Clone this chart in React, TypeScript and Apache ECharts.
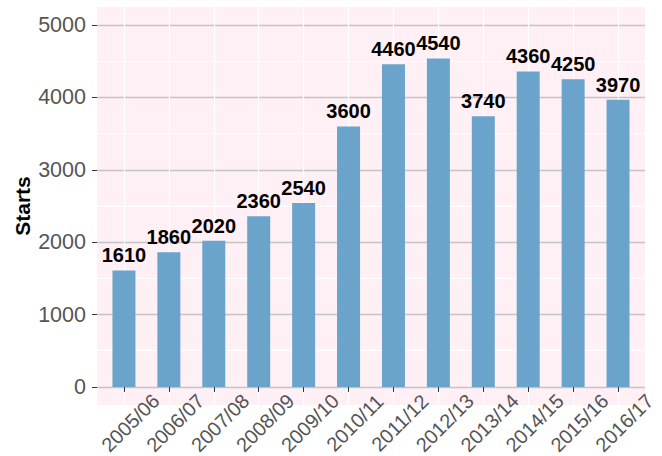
import React, { useEffect, useRef } from "react";
import * as echarts from "echarts";

const categories = ["2005/06", "2006/07", "2007/08", "2008/09", "2009/10", "2010/11", "2011/12", "2012/13", "2013/14", "2014/15", "2015/16", "2016/17"];
const starts = [1610, 1860, 2020, 2360, 2540, 3600, 4460, 4540, 3740, 4360, 4250, 3970];
const yTicks = [0, 1000, 2000, 3000, 4000, 5000];
const yMinor = [500, 1500, 2500, 3500, 4500];
const xPositions = categories.map((_, i) => i + 1);

const FONT = "Liberation Sans, Arial, sans-serif";

export default function App() {
  const ref = useRef<HTMLDivElement>(null);
  useEffect(() => {
    if (!ref.current) return;
    const chart = echarts.init(ref.current, null, { renderer: "svg" });
    chart.setOption({
      animation: false,
      grid: {
        left: 97,
        right: 17,
        top: 7,
        bottom: 51,
        show: true,
        backgroundColor: "#FFF0F5",
        borderWidth: 0,
        outerBoundsMode: "none",
      },
      xAxis: {
        type: "value",
        min: 0.4,
        max: 12.6,
        axisLine: { show: false },
        axisTick: { show: true, length: 5, lineStyle: { color: "#333333" }, customValues: xPositions },
        axisLabel: {
          customValues: xPositions,
          formatter: (v: number) => categories[Math.round(v) - 1] ?? "",
          rotate: 45,
          align: "center",
          verticalAlign: "top",
          margin: 11.5,
          fontSize: 20,
          lineHeight: 18,
          color: "#555555",
          fontFamily: FONT,
        },
        splitLine: { show: true, lineStyle: { color: "#FFFFFF", width: 1.2 } },
      },
      yAxis: {
        type: "value",
        min: -250,
        max: 5250,
        name: "Starts",
        nameLocation: "middle",
        nameGap: 64,
        nameMoveOverlap: false,
        nameTextStyle: { fontSize: 21, fontWeight: "bold", color: "#000000", fontFamily: FONT },
        axisLine: { show: false },
        axisTick: { show: true, length: 5, lineStyle: { color: "#333333" }, customValues: yTicks },
        axisLabel: {
          customValues: yTicks,
          formatter: (v: number) => String(v),
          margin: 11,
          fontSize: 21.5,
          color: "#555555",
          fontFamily: FONT,
        },
        splitLine: { show: true, lineStyle: { color: "#C4C4C4", width: 1.3 } },
      },
      series: [
        {
          type: "line",
          data: [],
          z: 1,
          silent: true,
          markLine: {
            silent: true,
            symbol: "none",
            z: 1,
            label: { show: false },
            lineStyle: { color: "#FFFFFF", type: "solid", width: 1.2 },
            data: yMinor.map((v) => ({ yAxis: v })),
          },
        },
        {
          type: "bar",
          z: 3,
          barWidth: 23,
          data: starts.map((v, i) => [xPositions[i], v]),
          itemStyle: { color: "#6BA4CB" },
          label: {
            show: true,
            position: "top",
            distance: 5,
            formatter: (p: any) => String(p.value[1]),
            fontSize: 20,
            fontWeight: "bold",
            color: "#000000",
            fontFamily: FONT,
          },
        },
      ],
    });
    return () => chart.dispose();
  }, []);
  return <div ref={ref} style={{ position: "absolute", left: 0, top: 0, width: 662, height: 456 }} />;
}
